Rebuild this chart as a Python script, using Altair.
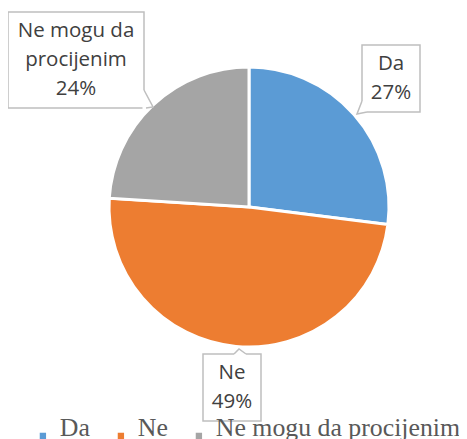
import altair as alt
import pandas as pd

# ---- data ----
categories = ["Da", "Ne", "Ne mogu da procijenim"]
percentages = [27, 49, 24]
label_texts = ["Da\n27%", "Ne\n49%", "Ne mogu da\nprocijenim\n24%"]
colors = ["#5B9BD5", "#ED7D31", "#A5A5A5"]

# ---- layout (page pixel coordinates, page margin = 8) ----
OFF = 8
LINE_H = 29
PIE_CX, PIE_CY, PIE_R = 249, 207, 140
boxes = [  # x1, y1, x2, y2
    (362, 45, 420, 112),
    (203, 354, 261, 421),
    (8, 12, 144, 108),
]
tails = [  # edge point A, tip, edge point B
    [(362, 101), (357, 114), (367, 112)],
    [(234, 354), (239, 349), (246, 354)],
    [(144, 90), (153, 107), (146, 108)],
]
covers = [
    [(362, 101), (362, 112), (367, 112)],
    [(234, 354), (246, 354)],
    [(144, 90), (144, 108), (146, 108)],
]

pie_df = pd.DataFrame({"category": categories, "value": percentages,
                       "order": list(range(len(categories)))})

nlines = [t.count("\n") + 1 for t in label_texts]
box_df = pd.DataFrame({
    "category": categories,
    "x1": [b[0] - OFF for b in boxes], "y1": [b[1] - OFF for b in boxes],
    "x2": [b[2] - OFF for b in boxes], "y2": [b[3] - OFF for b in boxes],
    "cx": [(b[0] + b[2]) / 2 - OFF for b in boxes],
    "cy": [(b[1] + b[3]) / 2 - OFF - (n - 1) * LINE_H / 2 for b, n in zip(boxes, nlines)],
    "label": label_texts,
})

def path_df(paths):
    rows = []
    for g, pts in enumerate(paths):
        for i, (px, py) in enumerate(pts):
            rows.append({"g": g, "i": i, "x": px - OFF, "y": py - OFF})
    return pd.DataFrame(rows)

cover_df = path_df(covers)
tail_df = path_df(tails)

color_scale = alt.Scale(domain=categories, range=colors)

pie = alt.Chart(pie_df).mark_arc(outerRadius=PIE_R, stroke="white", strokeWidth=3).encode(
    theta=alt.Theta("value:Q", stack=True),
    order=alt.Order("order:Q"),
    color=alt.Color("category:N", scale=color_scale, sort=categories,
                    legend=alt.Legend(
                        title=None, orient="none", direction="horizontal",
                        legendX=22, legendY=415,
                        symbolType="square", symbolSize=40,
                        symbolStrokeWidth=0,
                        labelFont="Liberation Serif", labelFontSize=25.8,
                        labelColor="#595959", labelOffset=4,
                        labelBaseline="alphabetic",
                        gridAlign="none",
                        columnPadding=18, padding=0, labelLimit=400)),
    x=alt.value(PIE_CX - OFF),
    y=alt.value(PIE_CY - OFF),
)

rect = alt.Chart(box_df).mark_rect(fill="white", stroke="#BFBFBF", strokeWidth=1.5).encode(
    x=alt.X("x1:Q", scale=None), x2="x2:Q",
    y=alt.Y("y1:Q", scale=None), y2="y2:Q",
)

cover = alt.Chart(cover_df).mark_line(color="white", strokeWidth=3).encode(
    x=alt.X("x:Q", scale=None), y=alt.Y("y:Q", scale=None),
    detail="g:N", order="i:Q",
)

tail = alt.Chart(tail_df).mark_line(color="#BFBFBF", strokeWidth=1.5).encode(
    x=alt.X("x:Q", scale=None), y=alt.Y("y:Q", scale=None),
    detail="g:N", order="i:Q",
)

text = alt.Chart(box_df).mark_text(
    font="Open Sans", fontSize=20.5, color="#404040", lineBreak="\n",
    lineHeight=LINE_H, align="center", baseline="middle",
).encode(
    x=alt.X("cx:Q", scale=None), y=alt.Y("cy:Q", scale=None), text="label:N",
)

chart = alt.layer(pie, rect, cover, tail, text).properties(
    width=451, height=431, padding=0, autosize=alt.AutoSizeParams(type="none"),
).configure_view(stroke=None)

chart.save("out.html", embed_options={"renderer": "svg", "actions": False})
